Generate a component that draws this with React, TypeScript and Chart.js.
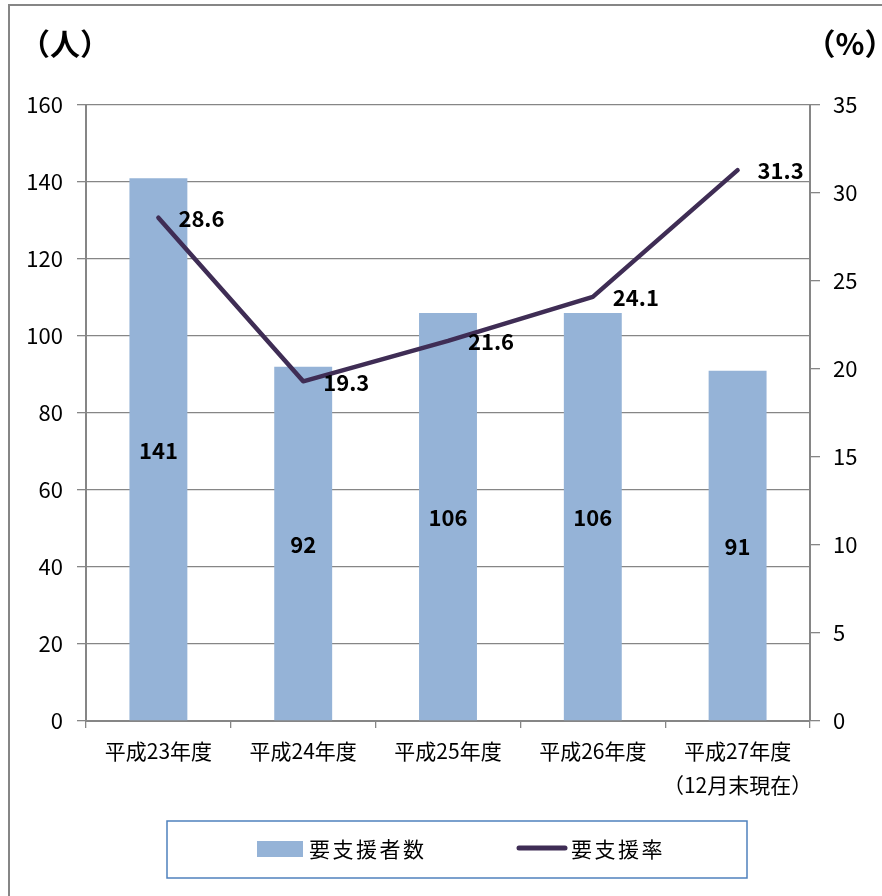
import React, { useEffect, useRef } from "react";
import { Chart, registerables } from "chart.js";

Chart.register(...registerables);

const categories: string[][] = [
  ["平成23年度"],
  ["平成24年度"],
  ["平成25年度"],
  ["平成26年度"],
  ["平成27年度", "（12月末現在）"],
];
const supportCounts = [141, 92, 106, 106, 91];
const supportRates = [28.6, 19.3, 21.6, 24.1, 31.3];
const countAxis = { min: 0, max: 160, step: 20 };
const rateAxis = { min: 0, max: 35, step: 5 };
const countLabel = "要支援者数";
const rateLabel = "要支援率";
const leftUnit = "（人）";
const rightUnit = "（%）";

const JP = '"Noto Sans CJK JP", "Noto Sans", sans-serif';
const GRID = "#868686";
const BAR = "#95b3d7";
const LINE = "#3f2d55";

const decorPlugin = {
  id: "decor",
  beforeDraw(chart: any) {
    const ctx = chart.ctx;
    ctx.save();
    ctx.fillStyle = "#ffffff";
    ctx.fillRect(0, 0, chart.width, chart.height);
    ctx.strokeStyle = GRID;
    ctx.lineWidth = 2;
    ctx.beginPath();
    ctx.moveTo(9, chart.height);
    ctx.lineTo(9, 5);
    ctx.lineTo(chart.width, 5);
    ctx.stroke();
    ctx.restore();
  },
  afterDatasetsDraw(chart: any) {
    const ctx = chart.ctx;
    ctx.save();
    ctx.fillStyle = "#000";
    ctx.font = `bold 22px ${JP}`;
    ctx.textBaseline = "middle";
    chart.data.datasets.forEach((ds: any, i: number) => {
      const meta = chart.getDatasetMeta(i);
      meta.data.forEach((el: any, j: number) => {
        const v = ds.data[j];
        if (ds.type === "bar") {
          ctx.textAlign = "center";
          ctx.fillText(String(v), el.x, (el.y + el.base) / 2 + 1);
        } else {
          ctx.textAlign = "left";
          ctx.fillText(v.toFixed(1), el.x + 20, el.y + 1);
        }
      });
    });
    ctx.restore();
  },
  afterDraw(chart: any) {
    const ctx = chart.ctx;
    const area = chart.chartArea;
    ctx.save();
    // unit labels
    ctx.fillStyle = "#000";
    ctx.font = `bold 30px ${JP}`;
    ctx.textBaseline = "middle";
    ctx.textAlign = "center";
    ctx.fillText(leftUnit, area.left - 21, 44);
    ctx.fillText(rightUnit, area.right + 40, 44);
    // legend box
    ctx.strokeStyle = "#4f81bd";
    ctx.lineWidth = 1.5;
    ctx.strokeRect(167, 821, 580, 57);
    ctx.fillStyle = BAR;
    ctx.fillRect(257, 841, 46, 16);
    ctx.strokeStyle = LINE;
    ctx.lineWidth = 5;
    ctx.lineCap = "round";
    ctx.beginPath();
    ctx.moveTo(519, 848);
    ctx.lineTo(565, 848);
    ctx.stroke();
    ctx.fillStyle = "#000";
    ctx.font = `21px ${JP}`;
    ctx.textAlign = "left";
    (ctx as any).letterSpacing = "2.5px";
    ctx.fillText(countLabel, 309, 849);
    ctx.fillText(rateLabel, 571, 849);
    ctx.restore();
  },
};

export default function App() {
  const ref = useRef<HTMLCanvasElement | null>(null);
  useEffect(() => {
    document.body.style.margin = "0";
    const canvas = ref.current;
    if (!canvas) return;
    const chart = new Chart(canvas, {
      type: "bar",
      data: {
        labels: categories as any,
        datasets: [
          {
            type: "line",
            label: rateLabel,
            data: supportRates,
            yAxisID: "y1",
            borderColor: LINE,
            backgroundColor: LINE,
            borderWidth: 4.5,
            pointRadius: 0,
            borderJoinStyle: "round",
            borderCapStyle: "round",
            tension: 0,
            order: 0,
          } as any,
          {
            type: "bar",
            label: countLabel,
            data: supportCounts,
            yAxisID: "y",
            backgroundColor: BAR,
            barPercentage: 0.4,
            categoryPercentage: 1,
            order: 1,
          } as any,
        ],
      },
      options: {
        animation: false,
        responsive: false,
        maintainAspectRatio: false,
        layout: { padding: { top: 105, left: 0, right: 0, bottom: 0 } },
        plugins: { legend: { display: false }, tooltip: { enabled: false } },
        scales: {
          x: {
            offset: true,
            grid: {
              offset: true,
              drawOnChartArea: false,
              drawTicks: true,
              tickLength: 7,
              color: GRID,
              lineWidth: 1.3,
            },
            border: { color: GRID, width: 2 },
            ticks: {
              color: "#000",
              font: { family: JP, size: 21, lineHeight: 1.62 },
              padding: 6,
              maxRotation: 0,
              autoSkip: false,
            },
            afterFit: (s: any) => {
              s.height = 175;
            },
          },
          y: {
            position: "left",
            min: countAxis.min,
            max: countAxis.max,
            ticks: {
              stepSize: countAxis.step,
              color: "#000",
              font: { family: JP, size: 22 },
              padding: 14,
            },
            grid: { color: GRID, lineWidth: 1.3, tickLength: 9, drawTicks: true },
            border: { color: GRID, width: 2 },
            afterFit: (s: any) => {
              s.width = 86;
            },
          },
          y1: {
            position: "right",
            min: rateAxis.min,
            max: rateAxis.max,
            ticks: {
              stepSize: rateAxis.step,
              color: "#000",
              font: { family: JP, size: 22 },
              padding: 13,
            },
            grid: {
              drawOnChartArea: false,
              color: GRID,
              lineWidth: 1.3,
              tickLength: 10,
              drawTicks: true,
            },
            border: { color: GRID, width: 2 },
            afterFit: (s: any) => {
              s.width = 72;
            },
          },
        },
      },
      plugins: [decorPlugin],
    });
    return () => chart.destroy();
  }, []);
  return (
    <div style={{ width: 882, height: 896 }}>
      <canvas ref={ref} width={882} height={896} style={{ display: "block", width: 882, height: 896 }} />
    </div>
  );
}
